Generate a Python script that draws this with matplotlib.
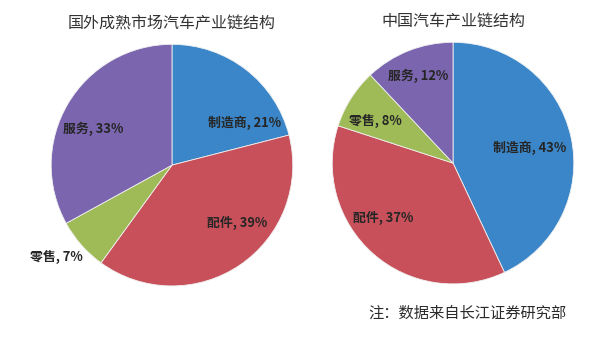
import matplotlib
matplotlib.use("Agg")
import matplotlib.pyplot as plt

plt.rcParams['font.family'] = ['Noto Sans CJK SC', 'DejaVu Sans']

# 数据
categorias = ['制造商', '配件', '零售', '服务']
exterior = [21, 39, 7, 33]
china = [43, 37, 8, 12]
titulos = ['国外成熟市场汽车产业链结构', '中国汽车产业链结构']
nota = '注：数据来自长江证券研究部'

cores = ['#3a86c8', '#c8505a', '#9fbb58', '#7a65ae']

# posições dos rótulos (coordenadas do pie, raio 1)
pos_esq = [(0.60, 0.35), (0.54, -0.48), (-0.96, -0.76), (-0.65, 0.30)]
pos_dir = [(0.63, 0.13), (-0.58, -0.45), (-0.64, 0.35), (-0.29, 0.72)]

fig = plt.figure(figsize=(6, 3.39), dpi=100)
eixos = [fig.add_axes([0.0833, 0.153, 0.4067, 0.7198]),
         fig.add_axes([0.5517, 0.159, 0.4067, 0.7198])]

for ax, valores, titulo, pos in zip(eixos, [exterior, china], titulos, [pos_esq, pos_dir]):
    ax.pie(valores, colors=cores, startangle=90, counterclock=False,
           radius=1, wedgeprops=dict(edgecolor='#f0f0f0', linewidth=0.6))
    ax.set_xlim(-1.01, 1.01)
    ax.set_ylim(-1.01, 1.01)
    ax.set_aspect('equal')
    ax.axis('off')
    for cat, v, (x, y) in zip(categorias, valores, pos):
        ax.text(x, y, f'{cat}, {v}%', ha='center', va='center',
                fontsize=9.3, fontweight='bold', color='#262626')
    ax.text(0, 1.1, titulo, ha='center', va='bottom', fontsize=11.5,
            color='#333333')

fig.text(0.945, 0.077, nota, ha='right', va='center', fontsize=11,
         color='#2a2a2a')

fig.savefig('out.png', dpi=100)
